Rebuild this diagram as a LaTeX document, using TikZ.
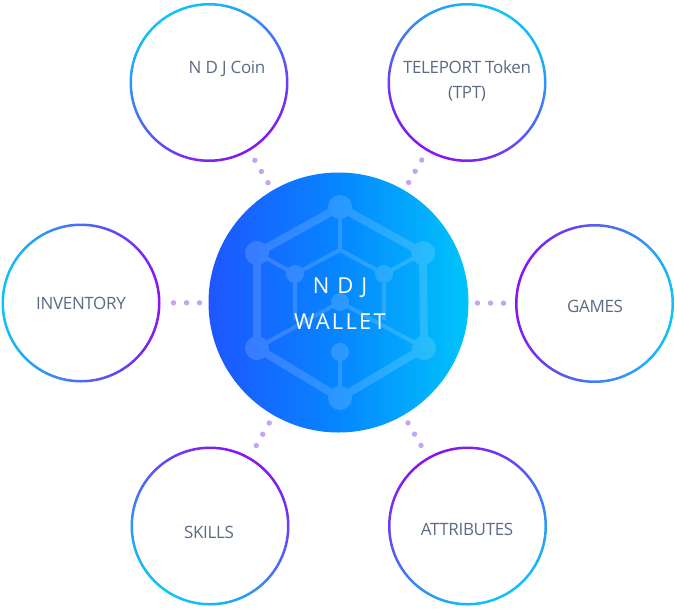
\documentclass[tikz,border=0pt]{standalone}
\usepackage{fontspec}
\setmainfont{Open Sans}
\newfontfamily\lblfont[LetterSpace=-2]{Open Sans}
\newfontfamily\walfont[LetterSpace=10]{Open Sans}
\usetikzlibrary{calc}
\definecolor{ringc}{RGB}{14,196,246}
\definecolor{ringv}{RGB}{136,20,242}
\definecolor{dotc}{RGB}{196,164,245}
\definecolor{lblc}{RGB}{92,106,132}
\definecolor{wl}{RGB}{30,86,255}
\definecolor{wm}{RGB}{6,134,255}
\definecolor{wr}{RGB}{0,196,250}
\newcommand\ringat[2]{\shade[top color=ringv,bottom color=ringc,shading angle=#2,even odd rule] (#1.center) circle[radius=79.5pt] (#1.center) circle[radius=77pt];}
\newcommand\dotsto[1]{\draw[dotline] ($(main.center)!139pt!(#1.center)$) -- ($(main.center)!165.5pt!(#1.center)$);}
\begin{document}
\begin{tikzpicture}[x=1pt,y=-1pt,
  bub/.style={circle,minimum size=158pt,inner sep=0pt,outer sep=0pt},
  lbl/.style={text=lblc,font=\lblfont\fontsize{17}{25}\selectfont,align=center,inner sep=0pt},
  dotline/.style={draw=dotc,line width=5.4pt,line cap=round,dash pattern=on 0pt off 13pt},
  icoedge/.style={draw=white,line width=8pt},
  icoline/.style={draw=white,line width=4pt}]
\useasboundingbox (0,0) rectangle (677,608);
% central circle
\node[circle,minimum size=260pt,inner sep=0pt,outer sep=0pt,left color=wl,right color=wr,middle color=wm] (main) at (338.5,302.5) {};
% icon
\coordinate (T) at (340,207);
\coordinate (UL) at (257,253);
\coordinate (UR) at (423,253);
\coordinate (LL) at (257,348);
\coordinate (LR) at (424,348);
\coordinate (Bm) at (340,398);
\coordinate (F) at (340,250);
\coordinate (L) at (295,274);
\coordinate (R) at (384,274);
\coordinate (C) at (340,302);
\coordinate (B) at (340,352);
\begin{scope}[transparency group,opacity=0.15]
\begin{scope}[color=white]
\draw[icoedge,line join=round] (T) -- (UR) -- (LR) -- (Bm) -- (LL) -- (UL) -- cycle;
\draw[icoline] (T) -- (F) (F) -- (L) (F) -- (R) (UL) -- (L) (UR) -- (R)
  (C) -- (LL) (C) -- (LR) (B) -- (Bm) (L) -- (295,320) (R) -- (384,320);
\foreach \p in {T,UL,UR,LL,LR,Bm} \fill[white] (\p) circle[radius=12pt];
\foreach \p in {L,R,C,B} \fill[white] (\p) circle[radius=9pt];
\end{scope}
\end{scope}
\node[text=white,font=\walfont\fontsize{22}{35.5}\selectfont,align=center,inner sep=0pt] (wallet) at (340,303.5) {N D J\\WALLET};
% outer circles
\node[bub] (coin) at (209,82.5) {};
\node[bub] (tpt) at (467,82.5) {};
\node[bub] (inv) at (81,303) {};
\node[bub] (games) at (594.5,303.5) {};
\node[bub] (skills) at (210,526) {};
\node[bub] (attr) at (467.5,526) {};
\ringat{coin}{-150}
\ringat{tpt}{150}
\ringat{inv}{-90}
\ringat{games}{80}
\ringat{skills}{-30}
\ringat{attr}{30}
% labels
\node[lbl] (coinlbl) at (227,69) {N D J Coin};
\node[lbl] (tptlbl) at (467,80.5) {TELEPORT Token\\(TPT)};
\node[lbl] (invlbl) at (81,303) {INVENTORY};
\node[lbl] (gameslbl) at (595,306) {GAMES};
\node[lbl] (skillslbl) at (209,532) {SKILLS};
\node[lbl] (attrlbl) at (467,529) {ATTRIBUTES};
% dotted connectors
\dotsto{coin}
\dotsto{tpt}
\dotsto{inv}
\dotsto{games}
\dotsto{skills}
\dotsto{attr}
\end{tikzpicture}
\end{document}
